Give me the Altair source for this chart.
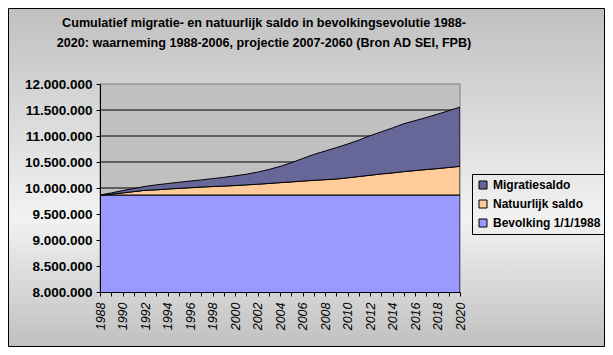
import altair as alt
import pandas as pd

years = list(range(1988, 2021))
bevolking_1988 = 9865000
natuurlijk = [0, 15000, 40000, 65000, 90000, 100000, 115000, 128000, 140000, 152000,
              163000, 172000, 182000, 195000, 208000, 222000, 238000, 252000, 268000,
              282000, 295000, 308000, 330000, 355000, 380000, 405000, 425000, 450000,
              470000, 490000, 508000, 530000, 552000]
migratie = [0, 25000, 45000, 60000, 75000, 95000, 105000, 117000, 128000, 138000,
            152000, 168000, 186000, 205000, 232000, 268000, 312000, 368000, 432000,
            498000, 550000, 602000, 650000, 700000, 760000, 810000, 865000, 920000,
            960000, 1000000, 1047000, 1090000, 1138000]
series_names = ["Migratiesaldo", "Natuurlijk saldo", "Bevolking 1/1/1988"]
series_colors = ["#666699", "#FFCC99", "#9999FF"]
y_ticks = [8000000, 8500000, 9000000, 9500000, 10000000, 10500000, 11000000, 11500000, 12000000]
grid_values = [8500000, 9000000, 9500000, 10000000, 10500000, 11000000, 11500000]
title_lines = ["Cumulatief migratie- en natuurlijk saldo in bevolkingsevolutie 1988-",
               "2020: waarneming 1988-2006, projectie 2007-2060 (Bron AD SEI, FPB)"]

rows = []
for i, yr in enumerate(years):
    rows.append({"jaar": yr, "reeks": "Bevolking 1/1/1988", "waarde": bevolking_1988, "volgorde": 0})
    rows.append({"jaar": yr, "reeks": "Natuurlijk saldo", "waarde": natuurlijk[i], "volgorde": 1})
    rows.append({"jaar": yr, "reeks": "Migratiesaldo", "waarde": migratie[i], "volgorde": 2})
df = pd.DataFrame(rows)
grid_df = pd.DataFrame({"waarde": grid_values})
one = pd.DataFrame({"a": [0]})
title_df = pd.DataFrame({"t": title_lines, "regel": [0, 1]})

W, H = 360, 208
FONT = "Liberation Sans"
yscale = alt.Scale(domain=[8000000, 12000000], nice=False, zero=False)
xscale = alt.Scale(domain=[1988, 2020], nice=False, zero=False)

x_axis = alt.Axis(title=None, values=years, format="d",
                  labelExpr="datum.value % 2 == 0 ? datum.label : ''",
                  labelAngle=270, labelFontStyle="italic", labelFontSize=12.5,
                  labelFont=FONT, labelColor="black", labelOverlap=False,
                  tickSize=4, tickColor="black", domainColor="black",
                  labelPadding=6, grid=False, zindex=1)
y_axis = alt.Axis(title=None, values=y_ticks,
                  labelExpr="replace(format(datum.value, ','), regexp(',', 'g'), '.')",
                  labelFontSize=13.5, labelFontWeight="bold", labelFont=FONT,
                  labelColor="black", tickSize=4, tickColor="black",
                  domainColor="black", labelPadding=4, grid=False, zindex=1)

bg = alt.Chart(one).mark_rect(
    color=alt.Gradient(
        gradient="linear", x1=0, y1=0, x2=0, y2=1,
        stops=[alt.GradientStop(color="#C0C0C0", offset=0),
               alt.GradientStop(color="#F2F2F2", offset=0.62),
               alt.GradientStop(color="#C0C0C0", offset=1)]),
    stroke="black", strokeWidth=1, clip=False
).encode(x=alt.value(-91.5), x2=alt.value(504.5), y=alt.value(-75.5), y2=alt.value(262.5))

wall = alt.Chart(one).mark_rect(fill="#C0C0C0", stroke="#808080", strokeWidth=1).encode(
    x=alt.value(0), x2=alt.value(W), y=alt.value(0), y2=alt.value(H))

grid = alt.Chart(grid_df).mark_rule(color="black", strokeWidth=1).encode(
    y=alt.Y("waarde:Q", scale=yscale, axis=y_axis))

area = alt.Chart(df).mark_area(stroke="black", strokeWidth=1, clip=True, interpolate="linear").encode(
    x=alt.X("jaar:Q", scale=xscale, axis=x_axis),
    y=alt.Y("waarde:Q", stack="zero", scale=yscale, axis=y_axis),
    color=alt.Color("reeks:N", scale=alt.Scale(domain=series_names, range=series_colors),
                    legend=alt.Legend(title=None, orient="none", legendX=372, legendY=90,
                                      symbolType="square", symbolSize=64,
                                      symbolStrokeColor="black", symbolStrokeWidth=1,
                                      symbolOpacity=1,
                                      labelFont=FONT, labelFontSize=12, labelFontWeight="bold",
                                      labelColor="black", rowPadding=7, padding=5,
                                      strokeColor="black", labelOffset=4)),
    order=alt.Order("volgorde:Q", sort="ascending"),
)

t1 = alt.Chart(title_df[title_df.regel == 0]).mark_text(
    font=FONT, fontSize=12.6, fontWeight="bold", color="black", align="center",
    baseline="middle", clip=False).encode(text="t:N", x=alt.value(164), y=alt.value(-61))
t2 = alt.Chart(title_df[title_df.regel == 1]).mark_text(
    font=FONT, fontSize=12.6, fontWeight="bold", color="black", align="center",
    baseline="middle", clip=False).encode(text="t:N", x=alt.value(164), y=alt.value(-41))

chart = alt.layer(bg, wall, grid, area, t1, t2).properties(
    width=W, height=H,
    autosize=alt.AutoSizeParams(type="none"),
    padding={"left": 92, "top": 76, "right": 145, "bottom": 55},
).configure_view(stroke=None, fill=None).configure(background="white")

chart.save("out.html", embed_options={"renderer": "svg", "actions": False})
